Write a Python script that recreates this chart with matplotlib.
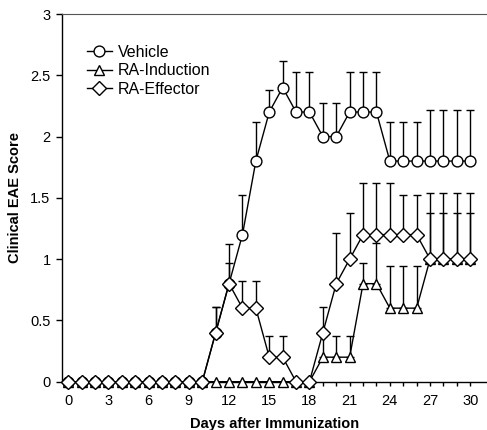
import matplotlib
matplotlib.use("Agg")
import matplotlib.pyplot as plt
import numpy as np

plt.rcParams['font.family'] = ['Liberation Sans', 'DejaVu Sans']

days = list(range(0, 31))
vehicle = [0]*11 + [0.4, 0.8, 1.2, 1.8, 2.2, 2.4, 2.2, 2.2, 2.0, 2.0, 2.2, 2.2, 2.2,
                    1.8, 1.8, 1.8, 1.8, 1.8, 1.8, 1.8]
vehicle_err = [0]*11 + [0.21, 0.32, 0.32, 0.32, 0.18, 0.22, 0.33, 0.33, 0.27, 0.27, 0.33, 0.33, 0.33,
                        0.32, 0.32, 0.32, 0.42, 0.42, 0.42, 0.42]
induction = [0]*19 + [0.2, 0.2, 0.2, 0.8, 0.8, 0.6, 0.6, 0.6, 1.0, 1.0, 1.0, 1.0]
induction_err = [0]*19 + [0.17, 0.17, 0.17, 0.17, 0.33, 0.34, 0.34, 0.34, 0.54, 0.54, 0.54, 0.54]
effector = [0]*11 + [0.4, 0.8, 0.6, 0.6, 0.2, 0.2, 0, 0, 0.4, 0.8, 1.0, 1.2, 1.2, 1.2, 1.2, 1.2,
                     1.0, 1.0, 1.0, 1.0]
effector_err = [0]*11 + [0.21, 0.17, 0.22, 0.22, 0.17, 0.17, 0, 0, 0.21, 0.41, 0.38, 0.42, 0.42, 0.42,
                         0.32, 0.32, 0.38, 0.38, 0.38, 0.38]

fig = plt.figure(figsize=(4.87, 4.30), dpi=100)
ax = fig.add_axes([61.7/487, (430-381.7)/430, (487-61.7)/487, 367.7/430])

def draw(y, err, marker, label, z, ms):
    y = np.array(y, dtype=float)
    err = np.array(err, dtype=float)
    ax.errorbar(days, y, yerr=[np.zeros_like(err), err], fmt='none', ecolor='black',
                elinewidth=1.0, capsize=3, capthick=1.0, zorder=z)
    ax.plot(days, y, color='black', lw=1.0, marker=marker, markersize=ms,
            markerfacecolor='white', markeredgecolor='black', markeredgewidth=1.0,
            label=label, zorder=z + 0.5, clip_on=False)

draw(vehicle, vehicle_err, 'o', 'Vehicle', 3, 7.8)
draw(induction, induction_err, '^', 'RA-Induction', 4, 7.8)
draw(effector, effector_err, 'D', 'RA-Effector', 5, 6.8)

ax.set_xlim(-0.49, 31.25)
ax.set_ylim(0, 3)
ax.set_xticks(range(0, 31, 3))
ax.set_xticks(range(0, 31), minor=True)
ax.set_yticks([0, 0.5, 1, 1.5, 2, 2.5, 3])
ax.set_yticklabels(['0', '0.5', '1', '1.5', '2', '2.5', '3'])
ax.tick_params(axis='both', labelsize=10.5, direction='out', length=4, width=1)
ax.tick_params(axis='x', which='minor', direction='out', length=3, width=1)
ax.tick_params(axis='x', which='major', length=3, pad=6)
ax.tick_params(axis='y', pad=4)

ax.spines['right'].set_visible(False)
ax.spines['top'].set_color('#555555')
ax.spines['left'].set_linewidth(1.0)
ax.spines['bottom'].set_linewidth(1.0)

ax.set_xlabel('Days after Immunization', fontsize=10.5, fontweight='bold', labelpad=6)
ax.set_ylabel('Clinical EAE Score', fontsize=10.5, fontweight='bold', labelpad=6)

leg = ax.legend(loc='upper left', frameon=False, fontsize=11.5, handlelength=1.6,
                handletextpad=0.35, labelspacing=0.22, bbox_to_anchor=(0.025, 0.955))

fig.savefig('out.png', dpi=100)
